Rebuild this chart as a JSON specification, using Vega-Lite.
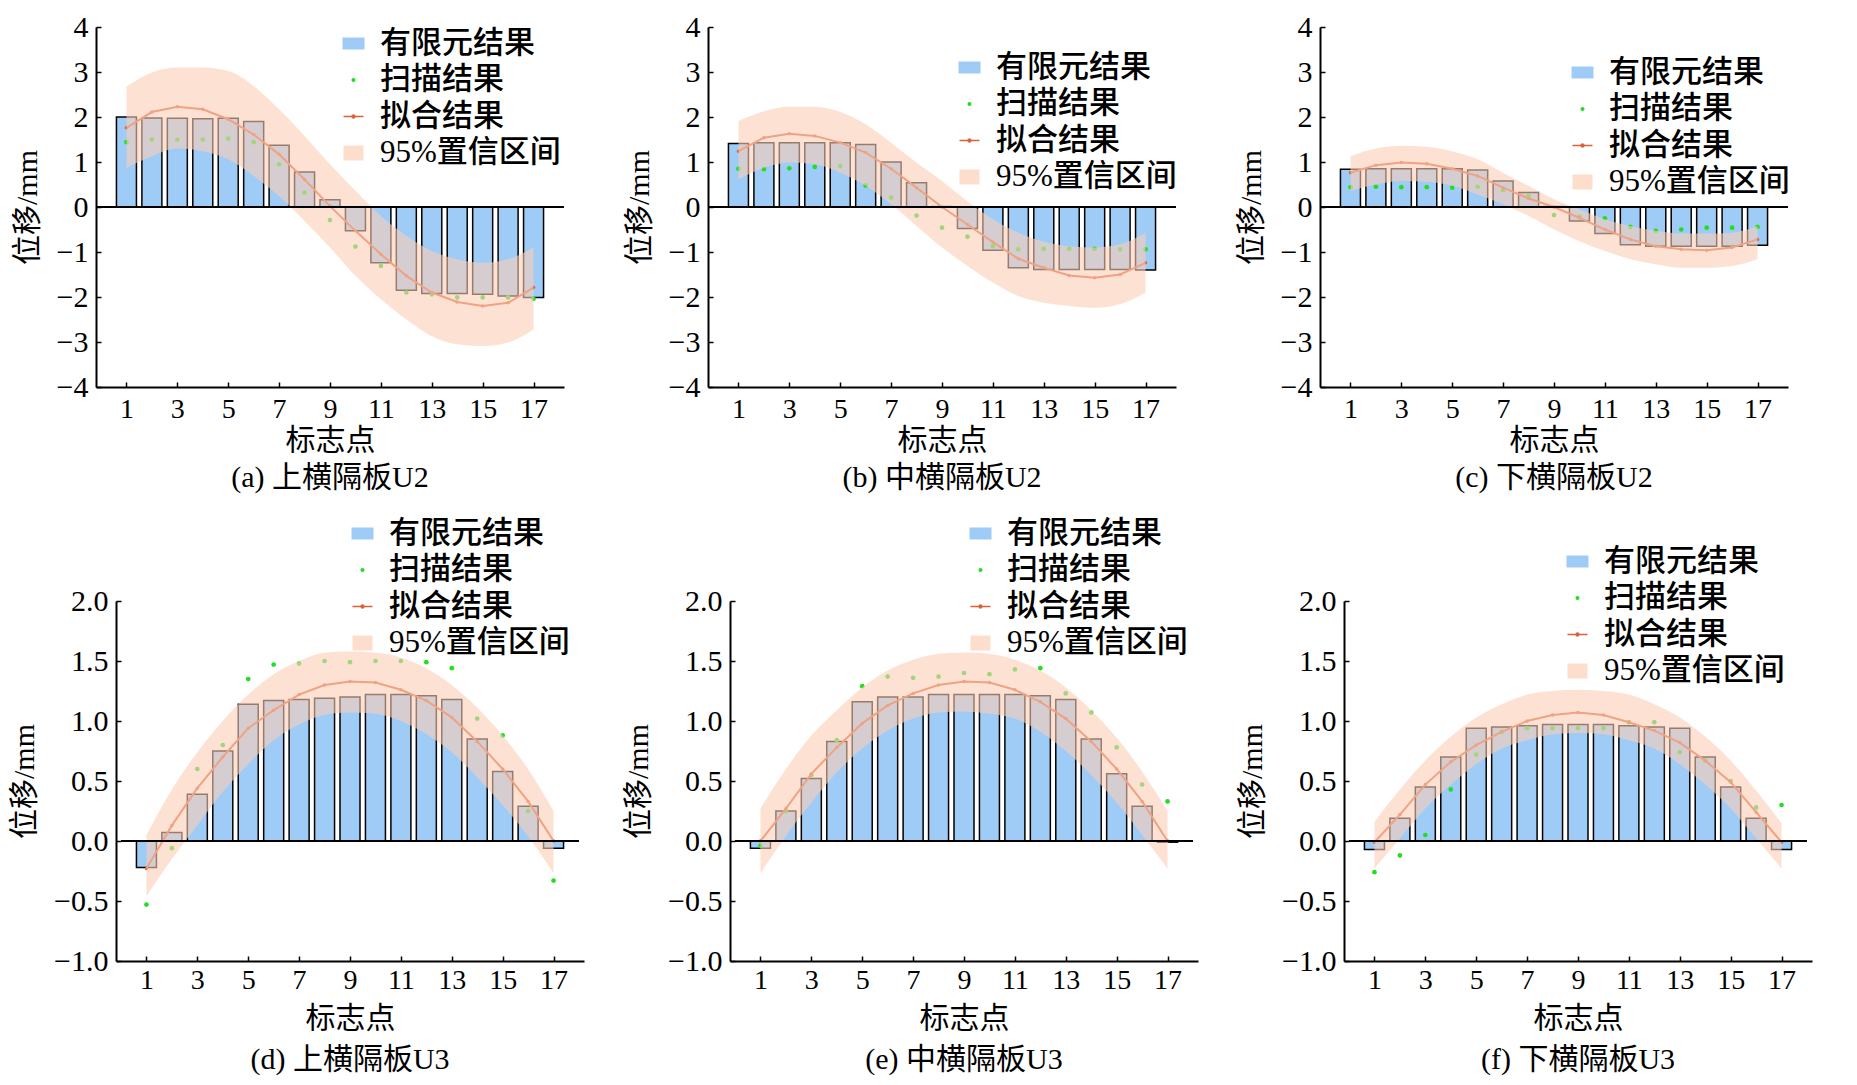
{
  "$schema": "https://vega.github.io/schema/vega-lite/v6.json",
  "padding": {"left": 9, "top": 12, "right": 5, "bottom": 5},
  "spacing": 25,
  "resolve": {"scale": {"color": "independent"}, "legend": {"color": "independent"}},
  "vconcat": [
    {
      "hconcat": [
        {
          "width": 468, "height": 360,
          "title": {"text": "(a) 上横隔板U2", "orient": "bottom", "frame": "group", "offset": 8},
          "data": {"values": [
            {"p": 1, "fe": 2.00, "scan": 1.44, "fit": 1.76, "lo": 0.87, "hi": 2.67},
            {"p": 2, "fe": 1.98, "scan": 1.50, "fit": 2.11, "lo": 1.13, "hi": 2.99},
            {"p": 3, "fe": 1.97, "scan": 1.50, "fit": 2.23, "lo": 1.30, "hi": 3.10},
            {"p": 4, "fe": 1.96, "scan": 1.50, "fit": 2.17, "lo": 1.24, "hi": 3.10},
            {"p": 5, "fe": 1.97, "scan": 1.52, "fit": 1.95, "lo": 1.06, "hi": 3.02},
            {"p": 6, "fe": 1.90, "scan": 1.44, "fit": 1.61, "lo": 0.69, "hi": 2.69},
            {"p": 7, "fe": 1.37, "scan": 0.95, "fit": 1.17, "lo": 0.24, "hi": 2.17},
            {"p": 8, "fe": 0.78, "scan": 0.32, "fit": 0.61, "lo": -0.31, "hi": 1.58},
            {"p": 9, "fe": 0.16, "scan": -0.29, "fit": 0.02, "lo": -0.90, "hi": 0.95},
            {"p": 10, "fe": -0.53, "scan": -0.88, "fit": -0.53, "lo": -1.53, "hi": 0.36},
            {"p": 11, "fe": -1.24, "scan": -1.31, "fit": -1.05, "lo": -2.05, "hi": -0.20},
            {"p": 12, "fe": -1.85, "scan": -1.90, "fit": -1.53, "lo": -2.50, "hi": -0.64},
            {"p": 13, "fe": -1.92, "scan": -1.94, "fit": -1.90, "lo": -2.87, "hi": -0.98},
            {"p": 14, "fe": -1.92, "scan": -2.01, "fit": -2.11, "lo": -3.05, "hi": -1.16},
            {"p": 15, "fe": -1.94, "scan": -2.01, "fit": -2.20, "lo": -3.09, "hi": -1.24},
            {"p": 16, "fe": -1.98, "scan": -2.01, "fit": -2.13, "lo": -3.01, "hi": -1.16},
            {"p": 17, "fe": -2.01, "scan": -2.04, "fit": -1.79, "lo": -2.72, "hi": -0.90}
          ]},
          "layer": [
            {
              "mark": {"type": "bar", "size": 20, "stroke": "black", "strokeWidth": 1.5},
              "encoding": {
                "x": {"field": "p", "type": "quantitative", "scale": {"domain": [0, 18], "nice": false},
                      "axis": {"values": [1,2,3,4,5,6,7,8,9,10,11,12,13,14,15,16,17], "labelExpr": "datum.value % 2 === 1 ? datum.label : ''", "title": "标志点", "labelFlush": false, "labelOverlap": false}},
                "y": {"field": "fe", "type": "quantitative", "scale": {"domain": [-4, 4], "nice": false},
                      "axis": {"values": [-4,-3,-2,-1,0,1,2,3,4], "format": "d", "title": "位移/mm", "labelFlush": false, "labelOverlap": false}},
                "color": {"datum": "有限元结果", "type": "nominal",
                          "scale": {"domain": ["有限元结果", "扫描结果", "拟合结果", "95%置信区间"], "range": ["#9fcbf7", "#22dd22", "#dc6038", "#fccfb7"]},
                          "legend": {"orient": "none", "legendX": 242, "legendY": 1, "title": null, "padding": 0, "rowPadding": 4.5, "symbolSize": 400, "labelFontSize": 31, "labelFontWeight": 500, "labelOffset": 11, "labelLimit": 400, "labelColor": "black",
                            "symbolType": {"expr": "datum.value === '有限元结果' ? 'M-1,-0.5H1V0.5H-1Z' : datum.value === '扫描结果' ? 'M-0.2,0A0.2,0.2,0,1,1,0.2,0A0.2,0.2,0,1,1,-0.2,0Z' : datum.value === '拟合结果' ? 'M-1,-0.08H1V0.08H-1ZM-0.22,0A0.22,0.22,0,1,1,0.22,0A0.22,0.22,0,1,1,-0.22,0Z' : 'M-1,-0.75H1V0.75H-1Z'"},
                            "symbolStrokeColor": "black",
                            "symbolStrokeWidth": {"expr": "datum.value === '有限元结果' ? 2 : 0"},
                            "symbolOpacity": {"expr": "datum.value === '95%置信区间' ? 0.7 : 1"}}}
              }
            },
            {
              "mark": {"type": "point", "filled": true, "size": 22, "opacity": 1},
              "encoding": {
                "x": {"field": "p", "type": "quantitative"},
                "y": {"field": "scan", "type": "quantitative"},
                "color": {"datum": "扫描结果", "type": "nominal", "scale": {"domain": ["有限元结果", "扫描结果", "拟合结果", "95%置信区间"], "range": ["#9fcbf7", "#22dd22", "#dc6038", "#fccfb7"]}, "legend": null}
              }
            },
            {
              "mark": {"type": "line", "strokeWidth": 2, "point": {"filled": true, "size": 12}},
              "encoding": {
                "x": {"field": "p", "type": "quantitative"},
                "y": {"field": "fit", "type": "quantitative"},
                "color": {"datum": "拟合结果", "type": "nominal", "scale": {"domain": ["有限元结果", "扫描结果", "拟合结果", "95%置信区间"], "range": ["#9fcbf7", "#22dd22", "#dc6038", "#fccfb7"]}, "legend": null}
              }
            },
            {
              "mark": {"type": "area", "opacity": 0.6, "interpolate": "monotone"},
              "encoding": {
                "x": {"field": "p", "type": "quantitative"},
                "y": {"field": "lo", "type": "quantitative"},
                "y2": {"field": "hi"},
                "color": {"datum": "95%置信区间", "type": "nominal", "scale": {"domain": ["有限元结果", "扫描结果", "拟合结果", "95%置信区间"], "range": ["#9fcbf7", "#22dd22", "#dc6038", "#fccfb7"]}, "legend": null}
              }
            },
            {"mark": {"type": "rule", "color": "black", "strokeWidth": 2}, "encoding": {"y": {"datum": 0}}}
          ]
        },
        {
          "width": 468, "height": 360,
          "title": {"text": "(b) 中横隔板U2", "orient": "bottom", "frame": "group", "offset": 8},
          "data": {"values": [
            {"p": 1, "fe": 1.41, "scan": 0.85, "fit": 1.24, "lo": 0.61, "hi": 1.91},
            {"p": 2, "fe": 1.43, "scan": 0.84, "fit": 1.54, "lo": 0.87, "hi": 2.13},
            {"p": 3, "fe": 1.43, "scan": 0.86, "fit": 1.63, "lo": 0.99, "hi": 2.23},
            {"p": 4, "fe": 1.43, "scan": 0.89, "fit": 1.58, "lo": 0.95, "hi": 2.23},
            {"p": 5, "fe": 1.43, "scan": 0.91, "fit": 1.43, "lo": 0.76, "hi": 2.11},
            {"p": 6, "fe": 1.39, "scan": 0.48, "fit": 1.21, "lo": 0.47, "hi": 1.84},
            {"p": 7, "fe": 1.00, "scan": 0.21, "fit": 0.85, "lo": 0.06, "hi": 1.43},
            {"p": 8, "fe": 0.54, "scan": -0.19, "fit": 0.43, "lo": -0.42, "hi": 0.99},
            {"p": 9, "fe": 0.01, "scan": -0.46, "fit": 0.00, "lo": -0.90, "hi": 0.58},
            {"p": 10, "fe": -0.48, "scan": -0.66, "fit": -0.39, "lo": -1.31, "hi": 0.13},
            {"p": 11, "fe": -0.96, "scan": -0.87, "fit": -0.78, "lo": -1.68, "hi": -0.27},
            {"p": 12, "fe": -1.35, "scan": -0.94, "fit": -1.15, "lo": -1.98, "hi": -0.57},
            {"p": 13, "fe": -1.39, "scan": -0.93, "fit": -1.35, "lo": -2.13, "hi": -0.77},
            {"p": 14, "fe": -1.39, "scan": -0.93, "fit": -1.52, "lo": -2.20, "hi": -0.87},
            {"p": 15, "fe": -1.39, "scan": -0.93, "fit": -1.57, "lo": -2.24, "hi": -0.90},
            {"p": 16, "fe": -1.39, "scan": -0.94, "fit": -1.50, "lo": -2.16, "hi": -0.83},
            {"p": 17, "fe": -1.40, "scan": -0.94, "fit": -1.24, "lo": -1.90, "hi": -0.57}
          ]},
          "layer": [
            {
              "mark": {"type": "bar", "size": 20, "stroke": "black", "strokeWidth": 1.5},
              "encoding": {
                "x": {"field": "p", "type": "quantitative", "scale": {"domain": [0, 18], "nice": false},
                      "axis": {"values": [1,2,3,4,5,6,7,8,9,10,11,12,13,14,15,16,17], "labelExpr": "datum.value % 2 === 1 ? datum.label : ''", "title": "标志点", "labelFlush": false, "labelOverlap": false}},
                "y": {"field": "fe", "type": "quantitative", "scale": {"domain": [-4, 4], "nice": false},
                      "axis": {"values": [-4,-3,-2,-1,0,1,2,3,4], "format": "d", "title": "位移/mm", "labelFlush": false, "labelOverlap": false}},
                "color": {"datum": "有限元结果", "type": "nominal",
                          "scale": {"domain": ["有限元结果", "扫描结果", "拟合结果", "95%置信区间"], "range": ["#9fcbf7", "#22dd22", "#dc6038", "#fccfb7"]},
                          "legend": {"orient": "none", "legendX": 246, "legendY": 25, "title": null, "padding": 0, "rowPadding": 4.5, "symbolSize": 400, "labelFontSize": 31, "labelFontWeight": 500, "labelOffset": 11, "labelLimit": 400, "labelColor": "black",
                            "symbolType": {"expr": "datum.value === '有限元结果' ? 'M-1,-0.5H1V0.5H-1Z' : datum.value === '扫描结果' ? 'M-0.2,0A0.2,0.2,0,1,1,0.2,0A0.2,0.2,0,1,1,-0.2,0Z' : datum.value === '拟合结果' ? 'M-1,-0.08H1V0.08H-1ZM-0.22,0A0.22,0.22,0,1,1,0.22,0A0.22,0.22,0,1,1,-0.22,0Z' : 'M-1,-0.75H1V0.75H-1Z'"},
                            "symbolStrokeColor": "black",
                            "symbolStrokeWidth": {"expr": "datum.value === '有限元结果' ? 2 : 0"},
                            "symbolOpacity": {"expr": "datum.value === '95%置信区间' ? 0.7 : 1"}}}
              }
            },
            {
              "mark": {"type": "point", "filled": true, "size": 22, "opacity": 1},
              "encoding": {
                "x": {"field": "p", "type": "quantitative"},
                "y": {"field": "scan", "type": "quantitative"},
                "color": {"datum": "扫描结果", "type": "nominal", "scale": {"domain": ["有限元结果", "扫描结果", "拟合结果", "95%置信区间"], "range": ["#9fcbf7", "#22dd22", "#dc6038", "#fccfb7"]}, "legend": null}
              }
            },
            {
              "mark": {"type": "line", "strokeWidth": 2, "point": {"filled": true, "size": 12}},
              "encoding": {
                "x": {"field": "p", "type": "quantitative"},
                "y": {"field": "fit", "type": "quantitative"},
                "color": {"datum": "拟合结果", "type": "nominal", "scale": {"domain": ["有限元结果", "扫描结果", "拟合结果", "95%置信区间"], "range": ["#9fcbf7", "#22dd22", "#dc6038", "#fccfb7"]}, "legend": null}
              }
            },
            {
              "mark": {"type": "area", "opacity": 0.6, "interpolate": "monotone"},
              "encoding": {
                "x": {"field": "p", "type": "quantitative"},
                "y": {"field": "lo", "type": "quantitative"},
                "y2": {"field": "hi"},
                "color": {"datum": "95%置信区间", "type": "nominal", "scale": {"domain": ["有限元结果", "扫描结果", "拟合结果", "95%置信区间"], "range": ["#9fcbf7", "#22dd22", "#dc6038", "#fccfb7"]}, "legend": null}
              }
            },
            {"mark": {"type": "rule", "color": "black", "strokeWidth": 2}, "encoding": {"y": {"datum": 0}}}
          ]
        },
        {
          "width": 468, "height": 360,
          "title": {"text": "(c) 下横隔板U2", "orient": "bottom", "frame": "group", "offset": 8},
          "data": {"values": [
            {"p": 1, "fe": 0.84, "scan": 0.44, "fit": 0.76, "lo": 0.36, "hi": 1.13},
            {"p": 2, "fe": 0.85, "scan": 0.45, "fit": 0.93, "lo": 0.50, "hi": 1.30},
            {"p": 3, "fe": 0.85, "scan": 0.44, "fit": 0.99, "lo": 0.58, "hi": 1.36},
            {"p": 4, "fe": 0.85, "scan": 0.44, "fit": 0.96, "lo": 0.56, "hi": 1.34},
            {"p": 5, "fe": 0.85, "scan": 0.43, "fit": 0.85, "lo": 0.47, "hi": 1.24},
            {"p": 6, "fe": 0.82, "scan": 0.45, "fit": 0.69, "lo": 0.28, "hi": 1.06},
            {"p": 7, "fe": 0.58, "scan": 0.38, "fit": 0.43, "lo": 0.06, "hi": 0.76},
            {"p": 8, "fe": 0.32, "scan": 0.24, "fit": 0.19, "lo": -0.20, "hi": 0.47},
            {"p": 9, "fe": 0.01, "scan": -0.18, "fit": 0.00, "lo": -0.50, "hi": 0.17},
            {"p": 10, "fe": -0.31, "scan": -0.22, "fit": -0.24, "lo": -0.76, "hi": -0.05},
            {"p": 11, "fe": -0.59, "scan": -0.25, "fit": -0.50, "lo": -0.98, "hi": -0.27},
            {"p": 12, "fe": -0.84, "scan": -0.44, "fit": -0.72, "lo": -1.16, "hi": -0.42},
            {"p": 13, "fe": -0.87, "scan": -0.53, "fit": -0.87, "lo": -1.27, "hi": -0.53},
            {"p": 14, "fe": -0.87, "scan": -0.50, "fit": -0.94, "lo": -1.35, "hi": -0.59},
            {"p": 15, "fe": -0.87, "scan": -0.46, "fit": -0.96, "lo": -1.35, "hi": -0.59},
            {"p": 16, "fe": -0.87, "scan": -0.46, "fit": -0.90, "lo": -1.31, "hi": -0.57},
            {"p": 17, "fe": -0.85, "scan": -0.44, "fit": -0.72, "lo": -1.16, "hi": -0.42}
          ]},
          "layer": [
            {
              "mark": {"type": "bar", "size": 20, "stroke": "black", "strokeWidth": 1.5},
              "encoding": {
                "x": {"field": "p", "type": "quantitative", "scale": {"domain": [0, 18], "nice": false},
                      "axis": {"values": [1,2,3,4,5,6,7,8,9,10,11,12,13,14,15,16,17], "labelExpr": "datum.value % 2 === 1 ? datum.label : ''", "title": "标志点", "labelFlush": false, "labelOverlap": false}},
                "y": {"field": "fe", "type": "quantitative", "scale": {"domain": [-4, 4], "nice": false},
                      "axis": {"values": [-4,-3,-2,-1,0,1,2,3,4], "format": "d", "title": "位移/mm", "labelFlush": false, "labelOverlap": false}},
                "color": {"datum": "有限元结果", "type": "nominal",
                          "scale": {"domain": ["有限元结果", "扫描结果", "拟合结果", "95%置信区间"], "range": ["#9fcbf7", "#22dd22", "#dc6038", "#fccfb7"]},
                          "legend": {"orient": "none", "legendX": 247, "legendY": 30, "title": null, "padding": 0, "rowPadding": 4.5, "symbolSize": 400, "labelFontSize": 31, "labelFontWeight": 500, "labelOffset": 11, "labelLimit": 400, "labelColor": "black",
                            "symbolType": {"expr": "datum.value === '有限元结果' ? 'M-1,-0.5H1V0.5H-1Z' : datum.value === '扫描结果' ? 'M-0.2,0A0.2,0.2,0,1,1,0.2,0A0.2,0.2,0,1,1,-0.2,0Z' : datum.value === '拟合结果' ? 'M-1,-0.08H1V0.08H-1ZM-0.22,0A0.22,0.22,0,1,1,0.22,0A0.22,0.22,0,1,1,-0.22,0Z' : 'M-1,-0.75H1V0.75H-1Z'"},
                            "symbolStrokeColor": "black",
                            "symbolStrokeWidth": {"expr": "datum.value === '有限元结果' ? 2 : 0"},
                            "symbolOpacity": {"expr": "datum.value === '95%置信区间' ? 0.7 : 1"}}}
              }
            },
            {
              "mark": {"type": "point", "filled": true, "size": 22, "opacity": 1},
              "encoding": {
                "x": {"field": "p", "type": "quantitative"},
                "y": {"field": "scan", "type": "quantitative"},
                "color": {"datum": "扫描结果", "type": "nominal", "scale": {"domain": ["有限元结果", "扫描结果", "拟合结果", "95%置信区间"], "range": ["#9fcbf7", "#22dd22", "#dc6038", "#fccfb7"]}, "legend": null}
              }
            },
            {
              "mark": {"type": "line", "strokeWidth": 2, "point": {"filled": true, "size": 12}},
              "encoding": {
                "x": {"field": "p", "type": "quantitative"},
                "y": {"field": "fit", "type": "quantitative"},
                "color": {"datum": "拟合结果", "type": "nominal", "scale": {"domain": ["有限元结果", "扫描结果", "拟合结果", "95%置信区间"], "range": ["#9fcbf7", "#22dd22", "#dc6038", "#fccfb7"]}, "legend": null}
              }
            },
            {
              "mark": {"type": "area", "opacity": 0.6, "interpolate": "monotone"},
              "encoding": {
                "x": {"field": "p", "type": "quantitative"},
                "y": {"field": "lo", "type": "quantitative"},
                "y2": {"field": "hi"},
                "color": {"datum": "95%置信区间", "type": "nominal", "scale": {"domain": ["有限元结果", "扫描结果", "拟合结果", "95%置信区间"], "range": ["#9fcbf7", "#22dd22", "#dc6038", "#fccfb7"]}, "legend": null}
              }
            },
            {"mark": {"type": "rule", "color": "black", "strokeWidth": 2}, "encoding": {"y": {"datum": 0}}}
          ]
        }
      ],
      "spacing": 144,
      "bounds": "flush",
      "resolve": {"scale": {"color": "independent"}, "legend": {"color": "independent"}}
    },
    {
      "hconcat": [
        {
          "width": 488, "height": 360,
          "title": {"text": "(d) 上横隔板U3", "orient": "bottom", "frame": "group", "offset": 12, "dx": 10},
          "data": {"values": [
            {"p": 1, "fe": -0.22, "scan": -0.53, "fit": -0.23, "lo": -0.46, "hi": 0.05},
            {"p": 2, "fe": 0.07, "scan": -0.06, "fit": 0.13, "lo": -0.15, "hi": 0.43},
            {"p": 3, "fe": 0.39, "scan": 0.60, "fit": 0.44, "lo": 0.13, "hi": 0.74},
            {"p": 4, "fe": 0.75, "scan": 0.80, "fit": 0.70, "lo": 0.41, "hi": 1.00},
            {"p": 5, "fe": 1.14, "scan": 1.35, "fit": 0.94, "lo": 0.64, "hi": 1.22},
            {"p": 6, "fe": 1.17, "scan": 1.47, "fit": 1.09, "lo": 0.84, "hi": 1.39},
            {"p": 7, "fe": 1.18, "scan": 1.48, "fit": 1.22, "lo": 0.97, "hi": 1.50},
            {"p": 8, "fe": 1.19, "scan": 1.50, "fit": 1.30, "lo": 1.05, "hi": 1.57},
            {"p": 9, "fe": 1.20, "scan": 1.49, "fit": 1.33, "lo": 1.07, "hi": 1.58},
            {"p": 10, "fe": 1.22, "scan": 1.50, "fit": 1.32, "lo": 1.06, "hi": 1.57},
            {"p": 11, "fe": 1.22, "scan": 1.50, "fit": 1.26, "lo": 1.00, "hi": 1.53},
            {"p": 12, "fe": 1.21, "scan": 1.49, "fit": 1.17, "lo": 0.89, "hi": 1.44},
            {"p": 13, "fe": 1.18, "scan": 1.44, "fit": 1.03, "lo": 0.74, "hi": 1.30},
            {"p": 14, "fe": 0.85, "scan": 1.02, "fit": 0.83, "lo": 0.53, "hi": 1.11},
            {"p": 15, "fe": 0.58, "scan": 0.88, "fit": 0.60, "lo": 0.30, "hi": 0.88},
            {"p": 16, "fe": 0.29, "scan": 0.25, "fit": 0.33, "lo": 0.04, "hi": 0.60},
            {"p": 17, "fe": -0.06, "scan": -0.33, "fit": 0.00, "lo": -0.27, "hi": 0.25}
          ]},
          "layer": [
            {
              "mark": {"type": "bar", "size": 20, "stroke": "black", "strokeWidth": 1.5},
              "encoding": {
                "x": {"field": "p", "type": "quantitative", "scale": {"domain": [0, 18], "range": [20, 488], "nice": false},
                      "axis": {"values": [1,2,3,4,5,6,7,8,9,10,11,12,13,14,15,16,17], "labelExpr": "datum.value % 2 === 1 ? datum.label : ''", "title": "标志点", "labelFlush": false, "labelOverlap": false, "labelPadding": 10, "titlePadding": 9}},
                "y": {"field": "fe", "type": "quantitative", "scale": {"domain": [-1, 2], "nice": false},
                      "axis": {"values": [-1,-0.5,0,0.5,1,1.5,2], "format": ".1f", "title": "位移/mm", "labelFlush": false, "labelOverlap": false, "offset": -20}},
                "color": {"datum": "有限元结果", "type": "nominal",
                          "scale": {"domain": ["有限元结果", "扫描结果", "拟合结果", "95%置信区间"], "range": ["#9fcbf7", "#22dd22", "#dc6038", "#fccfb7"]},
                          "legend": {"orient": "none", "legendX": 251, "legendY": -83, "title": null, "padding": 0, "rowPadding": 4.5, "symbolSize": 400, "labelFontSize": 31, "labelFontWeight": 500, "labelOffset": 11, "labelLimit": 400, "labelColor": "black",
                            "symbolType": {"expr": "datum.value === '有限元结果' ? 'M-1,-0.5H1V0.5H-1Z' : datum.value === '扫描结果' ? 'M-0.2,0A0.2,0.2,0,1,1,0.2,0A0.2,0.2,0,1,1,-0.2,0Z' : datum.value === '拟合结果' ? 'M-1,-0.08H1V0.08H-1ZM-0.22,0A0.22,0.22,0,1,1,0.22,0A0.22,0.22,0,1,1,-0.22,0Z' : 'M-1,-0.75H1V0.75H-1Z'"},
                            "symbolStrokeColor": "black",
                            "symbolStrokeWidth": {"expr": "datum.value === '有限元结果' ? 2 : 0"},
                            "symbolOpacity": {"expr": "datum.value === '95%置信区间' ? 0.7 : 1"}}}
              }
            },
            {
              "mark": {"type": "point", "filled": true, "size": 22, "opacity": 1},
              "encoding": {
                "x": {"field": "p", "type": "quantitative"},
                "y": {"field": "scan", "type": "quantitative"},
                "color": {"datum": "扫描结果", "type": "nominal", "scale": {"domain": ["有限元结果", "扫描结果", "拟合结果", "95%置信区间"], "range": ["#9fcbf7", "#22dd22", "#dc6038", "#fccfb7"]}, "legend": null}
              }
            },
            {
              "mark": {"type": "line", "strokeWidth": 2, "point": {"filled": true, "size": 12}},
              "encoding": {
                "x": {"field": "p", "type": "quantitative"},
                "y": {"field": "fit", "type": "quantitative"},
                "color": {"datum": "拟合结果", "type": "nominal", "scale": {"domain": ["有限元结果", "扫描结果", "拟合结果", "95%置信区间"], "range": ["#9fcbf7", "#22dd22", "#dc6038", "#fccfb7"]}, "legend": null}
              }
            },
            {
              "mark": {"type": "area", "opacity": 0.6, "interpolate": "monotone"},
              "encoding": {
                "x": {"field": "p", "type": "quantitative"},
                "y": {"field": "lo", "type": "quantitative"},
                "y2": {"field": "hi"},
                "color": {"datum": "95%置信区间", "type": "nominal", "scale": {"domain": ["有限元结果", "扫描结果", "拟合结果", "95%置信区间"], "range": ["#9fcbf7", "#22dd22", "#dc6038", "#fccfb7"]}, "legend": null}
              }
            },
            {"mark": {"type": "rule", "color": "black", "strokeWidth": 2}, "encoding": {"x": {"datum": 0, "type": "quantitative"}, "x2": {"datum": 18}, "y": {"datum": 0}}}
          ]
        },
        {
          "width": 488, "height": 360,
          "title": {"text": "(e) 中横隔板U3", "orient": "bottom", "frame": "group", "offset": 12, "dx": 10},
          "data": {"values": [
            {"p": 1, "fe": -0.06, "scan": -0.04, "fit": 0.00, "lo": -0.27, "hi": 0.27},
            {"p": 2, "fe": 0.25, "scan": 0.25, "fit": 0.27, "lo": 0.04, "hi": 0.60},
            {"p": 3, "fe": 0.52, "scan": 0.55, "fit": 0.56, "lo": 0.32, "hi": 0.88},
            {"p": 4, "fe": 0.83, "scan": 0.84, "fit": 0.78, "lo": 0.57, "hi": 1.09},
            {"p": 5, "fe": 1.16, "scan": 1.29, "fit": 0.98, "lo": 0.77, "hi": 1.28},
            {"p": 6, "fe": 1.20, "scan": 1.37, "fit": 1.13, "lo": 0.92, "hi": 1.42},
            {"p": 7, "fe": 1.20, "scan": 1.36, "fit": 1.23, "lo": 1.02, "hi": 1.51},
            {"p": 8, "fe": 1.22, "scan": 1.37, "fit": 1.30, "lo": 1.07, "hi": 1.56},
            {"p": 9, "fe": 1.22, "scan": 1.40, "fit": 1.33, "lo": 1.08, "hi": 1.57},
            {"p": 10, "fe": 1.22, "scan": 1.39, "fit": 1.32, "lo": 1.06, "hi": 1.56},
            {"p": 11, "fe": 1.22, "scan": 1.43, "fit": 1.26, "lo": 1.02, "hi": 1.51},
            {"p": 12, "fe": 1.21, "scan": 1.44, "fit": 1.16, "lo": 0.91, "hi": 1.42},
            {"p": 13, "fe": 1.18, "scan": 1.23, "fit": 1.02, "lo": 0.75, "hi": 1.28},
            {"p": 14, "fe": 0.85, "scan": 1.07, "fit": 0.83, "lo": 0.55, "hi": 1.09},
            {"p": 15, "fe": 0.56, "scan": 0.78, "fit": 0.60, "lo": 0.32, "hi": 0.86},
            {"p": 16, "fe": 0.29, "scan": 0.47, "fit": 0.33, "lo": 0.05, "hi": 0.58},
            {"p": 17, "fe": -0.01, "scan": 0.33, "fit": 0.00, "lo": -0.23, "hi": 0.25}
          ]},
          "layer": [
            {
              "mark": {"type": "bar", "size": 20, "stroke": "black", "strokeWidth": 1.5},
              "encoding": {
                "x": {"field": "p", "type": "quantitative", "scale": {"domain": [0, 18], "range": [20, 488], "nice": false},
                      "axis": {"values": [1,2,3,4,5,6,7,8,9,10,11,12,13,14,15,16,17], "labelExpr": "datum.value % 2 === 1 ? datum.label : ''", "title": "标志点", "labelFlush": false, "labelOverlap": false, "labelPadding": 10, "titlePadding": 9}},
                "y": {"field": "fe", "type": "quantitative", "scale": {"domain": [-1, 2], "nice": false},
                      "axis": {"values": [-1,-0.5,0,0.5,1,1.5,2], "format": ".1f", "title": "位移/mm", "labelFlush": false, "labelOverlap": false, "offset": -20}},
                "color": {"datum": "有限元结果", "type": "nominal",
                          "scale": {"domain": ["有限元结果", "扫描结果", "拟合结果", "95%置信区间"], "range": ["#9fcbf7", "#22dd22", "#dc6038", "#fccfb7"]},
                          "legend": {"orient": "none", "legendX": 255, "legendY": -83, "title": null, "padding": 0, "rowPadding": 4.5, "symbolSize": 400, "labelFontSize": 31, "labelFontWeight": 500, "labelOffset": 11, "labelLimit": 400, "labelColor": "black",
                            "symbolType": {"expr": "datum.value === '有限元结果' ? 'M-1,-0.5H1V0.5H-1Z' : datum.value === '扫描结果' ? 'M-0.2,0A0.2,0.2,0,1,1,0.2,0A0.2,0.2,0,1,1,-0.2,0Z' : datum.value === '拟合结果' ? 'M-1,-0.08H1V0.08H-1ZM-0.22,0A0.22,0.22,0,1,1,0.22,0A0.22,0.22,0,1,1,-0.22,0Z' : 'M-1,-0.75H1V0.75H-1Z'"},
                            "symbolStrokeColor": "black",
                            "symbolStrokeWidth": {"expr": "datum.value === '有限元结果' ? 2 : 0"},
                            "symbolOpacity": {"expr": "datum.value === '95%置信区间' ? 0.7 : 1"}}}
              }
            },
            {
              "mark": {"type": "point", "filled": true, "size": 22, "opacity": 1},
              "encoding": {
                "x": {"field": "p", "type": "quantitative"},
                "y": {"field": "scan", "type": "quantitative"},
                "color": {"datum": "扫描结果", "type": "nominal", "scale": {"domain": ["有限元结果", "扫描结果", "拟合结果", "95%置信区间"], "range": ["#9fcbf7", "#22dd22", "#dc6038", "#fccfb7"]}, "legend": null}
              }
            },
            {
              "mark": {"type": "line", "strokeWidth": 2, "point": {"filled": true, "size": 12}},
              "encoding": {
                "x": {"field": "p", "type": "quantitative"},
                "y": {"field": "fit", "type": "quantitative"},
                "color": {"datum": "拟合结果", "type": "nominal", "scale": {"domain": ["有限元结果", "扫描结果", "拟合结果", "95%置信区间"], "range": ["#9fcbf7", "#22dd22", "#dc6038", "#fccfb7"]}, "legend": null}
              }
            },
            {
              "mark": {"type": "area", "opacity": 0.6, "interpolate": "monotone"},
              "encoding": {
                "x": {"field": "p", "type": "quantitative"},
                "y": {"field": "lo", "type": "quantitative"},
                "y2": {"field": "hi"},
                "color": {"datum": "95%置信区间", "type": "nominal", "scale": {"domain": ["有限元结果", "扫描结果", "拟合结果", "95%置信区间"], "range": ["#9fcbf7", "#22dd22", "#dc6038", "#fccfb7"]}, "legend": null}
              }
            },
            {"mark": {"type": "rule", "color": "black", "strokeWidth": 2}, "encoding": {"x": {"datum": 0, "type": "quantitative"}, "x2": {"datum": 18}, "y": {"datum": 0}}}
          ]
        },
        {
          "width": 488, "height": 360,
          "title": {"text": "(f) 下横隔板U3", "orient": "bottom", "frame": "group", "offset": 12, "dx": 10},
          "data": {"values": [
            {"p": 1, "fe": -0.07, "scan": -0.26, "fit": -0.01, "lo": -0.23, "hi": 0.16},
            {"p": 2, "fe": 0.19, "scan": -0.12, "fit": 0.22, "lo": 0.02, "hi": 0.43},
            {"p": 3, "fe": 0.45, "scan": 0.05, "fit": 0.47, "lo": 0.27, "hi": 0.67},
            {"p": 4, "fe": 0.70, "scan": 0.43, "fit": 0.66, "lo": 0.47, "hi": 0.87},
            {"p": 5, "fe": 0.94, "scan": 0.72, "fit": 0.80, "lo": 0.64, "hi": 1.03},
            {"p": 6, "fe": 0.95, "scan": 0.91, "fit": 0.91, "lo": 0.77, "hi": 1.14},
            {"p": 7, "fe": 0.96, "scan": 0.94, "fit": 1.00, "lo": 0.84, "hi": 1.22},
            {"p": 8, "fe": 0.97, "scan": 0.94, "fit": 1.05, "lo": 0.89, "hi": 1.25},
            {"p": 9, "fe": 0.97, "scan": 0.94, "fit": 1.07, "lo": 0.90, "hi": 1.26},
            {"p": 10, "fe": 0.97, "scan": 0.94, "fit": 1.05, "lo": 0.89, "hi": 1.25},
            {"p": 11, "fe": 0.96, "scan": 0.99, "fit": 0.99, "lo": 0.84, "hi": 1.22},
            {"p": 12, "fe": 0.95, "scan": 0.99, "fit": 0.92, "lo": 0.77, "hi": 1.14},
            {"p": 13, "fe": 0.94, "scan": 0.74, "fit": 0.82, "lo": 0.64, "hi": 1.03},
            {"p": 14, "fe": 0.70, "scan": 0.67, "fit": 0.67, "lo": 0.47, "hi": 0.87},
            {"p": 15, "fe": 0.45, "scan": 0.50, "fit": 0.49, "lo": 0.27, "hi": 0.67},
            {"p": 16, "fe": 0.19, "scan": 0.28, "fit": 0.24, "lo": 0.02, "hi": 0.42},
            {"p": 17, "fe": -0.07, "scan": 0.30, "fit": -0.01, "lo": -0.23, "hi": 0.15}
          ]},
          "layer": [
            {
              "mark": {"type": "bar", "size": 20, "stroke": "black", "strokeWidth": 1.5},
              "encoding": {
                "x": {"field": "p", "type": "quantitative", "scale": {"domain": [0, 18], "range": [20, 488], "nice": false},
                      "axis": {"values": [1,2,3,4,5,6,7,8,9,10,11,12,13,14,15,16,17], "labelExpr": "datum.value % 2 === 1 ? datum.label : ''", "title": "标志点", "labelFlush": false, "labelOverlap": false, "labelPadding": 10, "titlePadding": 9}},
                "y": {"field": "fe", "type": "quantitative", "scale": {"domain": [-1, 2], "nice": false},
                      "axis": {"values": [-1,-0.5,0,0.5,1,1.5,2], "format": ".1f", "title": "位移/mm", "labelFlush": false, "labelOverlap": false, "offset": -20}},
                "color": {"datum": "有限元结果", "type": "nominal",
                          "scale": {"domain": ["有限元结果", "扫描结果", "拟合结果", "95%置信区间"], "range": ["#9fcbf7", "#22dd22", "#dc6038", "#fccfb7"]},
                          "legend": {"orient": "none", "legendX": 238, "legendY": -55, "title": null, "padding": 0, "rowPadding": 4.5, "symbolSize": 400, "labelFontSize": 31, "labelFontWeight": 500, "labelOffset": 11, "labelLimit": 400, "labelColor": "black",
                            "symbolType": {"expr": "datum.value === '有限元结果' ? 'M-1,-0.5H1V0.5H-1Z' : datum.value === '扫描结果' ? 'M-0.2,0A0.2,0.2,0,1,1,0.2,0A0.2,0.2,0,1,1,-0.2,0Z' : datum.value === '拟合结果' ? 'M-1,-0.08H1V0.08H-1ZM-0.22,0A0.22,0.22,0,1,1,0.22,0A0.22,0.22,0,1,1,-0.22,0Z' : 'M-1,-0.75H1V0.75H-1Z'"},
                            "symbolStrokeColor": "black",
                            "symbolStrokeWidth": {"expr": "datum.value === '有限元结果' ? 2 : 0"},
                            "symbolOpacity": {"expr": "datum.value === '95%置信区间' ? 0.7 : 1"}}}
              }
            },
            {
              "mark": {"type": "point", "filled": true, "size": 22, "opacity": 1},
              "encoding": {
                "x": {"field": "p", "type": "quantitative"},
                "y": {"field": "scan", "type": "quantitative"},
                "color": {"datum": "扫描结果", "type": "nominal", "scale": {"domain": ["有限元结果", "扫描结果", "拟合结果", "95%置信区间"], "range": ["#9fcbf7", "#22dd22", "#dc6038", "#fccfb7"]}, "legend": null}
              }
            },
            {
              "mark": {"type": "line", "strokeWidth": 2, "point": {"filled": true, "size": 12}},
              "encoding": {
                "x": {"field": "p", "type": "quantitative"},
                "y": {"field": "fit", "type": "quantitative"},
                "color": {"datum": "拟合结果", "type": "nominal", "scale": {"domain": ["有限元结果", "扫描结果", "拟合结果", "95%置信区间"], "range": ["#9fcbf7", "#22dd22", "#dc6038", "#fccfb7"]}, "legend": null}
              }
            },
            {
              "mark": {"type": "area", "opacity": 0.6, "interpolate": "monotone"},
              "encoding": {
                "x": {"field": "p", "type": "quantitative"},
                "y": {"field": "lo", "type": "quantitative"},
                "y2": {"field": "hi"},
                "color": {"datum": "95%置信区间", "type": "nominal", "scale": {"domain": ["有限元结果", "扫描结果", "拟合结果", "95%置信区间"], "range": ["#9fcbf7", "#22dd22", "#dc6038", "#fccfb7"]}, "legend": null}
              }
            },
            {"mark": {"type": "rule", "color": "black", "strokeWidth": 2}, "encoding": {"x": {"datum": 0, "type": "quantitative"}, "x2": {"datum": 18}, "y": {"datum": 0}}}
          ]
        }
      ],
      "spacing": 126,
      "bounds": "flush",
      "resolve": {"scale": {"color": "independent"}, "legend": {"color": "independent"}}
    }
  ],
  "config": {
    "view": {"stroke": null},
    "font": "Liberation Serif, Noto Sans CJK SC",
    "bar": {"stroke": "black"},
    "axis": {
      "grid": false, "domainColor": "black", "domainWidth": 2, "tickColor": "black", "tickWidth": 1.5, "tickSize": -5,
      "labelFont": "Liberation Serif, Noto Sans CJK SC", "labelColor": "black",
      "titleFont": "Liberation Serif, Noto Sans CJK SC", "titleFontSize": 30, "titleFontWeight": "normal", "titleColor": "black"
    },
    "axisX": {"labelPadding": 13, "titlePadding": 2, "labelFontSize": 28},
    "axisY": {"labelPadding": 13, "titlePadding": 14, "labelFontSize": 30},
    "legend": {"labelFont": "Liberation Serif, Noto Sans CJK SC"},
    "title": {"font": "Liberation Serif, Noto Sans CJK SC", "fontSize": 30, "fontWeight": "normal", "color": "black"}
  }
}
